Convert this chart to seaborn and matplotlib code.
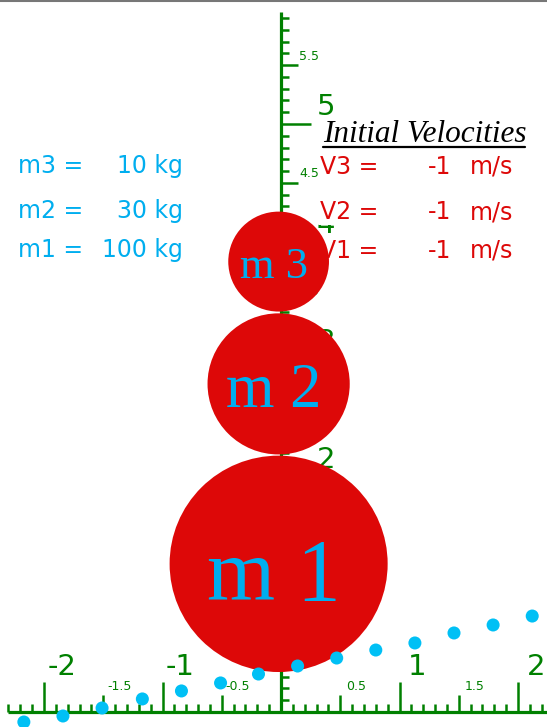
import matplotlib
matplotlib.use('Agg')
import matplotlib.pyplot as plt
from matplotlib.patches import Circle
from matplotlib.lines import Line2D
import numpy as np
import seaborn as sns

# stacked bodies, bottom to top
ball_names = ['m 1', 'm 2', 'm 3']
ball_x = [-0.02, -0.02, -0.02]
ball_y = [1.26, 2.79, 3.83]
ball_r = [0.92, 0.60, 0.425]
masses = [100, 30, 10]
velocities = [-1, -1, -1]

# cyan trail of points along the bottom
trail_x = [-2.17, -1.84, -1.51, -1.17, -0.84, -0.51, -0.19,
           0.14, 0.47, 0.80, 1.13, 1.46, 1.79, 2.12]
trail_y = [-0.085, -0.034, 0.034, 0.111, 0.179, 0.247, 0.323,
           0.391, 0.459, 0.527, 0.587, 0.672, 0.740, 0.816]

x_labels = [-2, -1, 1, 2]
y_labels = [1, 2, 3, 4, 5]
x_half = [-1.5, -0.5, 0.5, 1.5]
y_half = [0.5, 1.5, 2.5, 3.5, 4.5, 5.5]

W, H = 547, 727
GREEN = '#008000'
RED = '#DD0808'
CYAN = '#00AEEF'
DOT = '#00C0F5'
label_sizes = [63, 45, 32]


def fx(px):
    return px / W


def fy(py):
    return 1 - py / H


sns.set_style('white')
fig = plt.figure(figsize=(W / 100, H / 100), dpi=100)
ax = fig.add_axes([0, 0, 1, 1])
ax.set_xlim((0 - 281) / 118.5, (W - 281) / 118.5)
ax.set_ylim((712 - H) / 117.6, 712 / 117.6)
ax.axis('off')

# axes lines
ax.plot([-2.30, 2.30], [0, 0], color=GREEN, lw=2.3, solid_capstyle='butt', zorder=1)
ax.plot([0, 0], [0, 5.95], color=GREEN, lw=2.3, solid_capstyle='butt', zorder=1)

# x ticks every 0.1
for k in range(-23, 23):
    if k == 0:
        continue
    h = 0.255 if k % 10 == 0 else (0.145 if k % 5 == 0 else 0.068)
    ax.plot([k / 10, k / 10], [0, h], color=GREEN, lw=1.8, solid_capstyle='butt', zorder=1)

# y ticks every 0.1
for k in range(1, 60):
    w = 0.253 if k % 10 == 0 else (0.143 if k % 5 == 0 else 0.0675)
    ax.plot([0, w], [k / 10, k / 10], color=GREEN, lw=1.8, solid_capstyle='butt', zorder=1)

for v in x_labels:
    ax.text(v + 0.15, 0.383, str(v), color=GREEN, fontsize=21, ha='center', va='center', zorder=1)
for v in y_labels:
    ax.text(0.38, v + 0.145, str(v), color=GREEN, fontsize=21, ha='center', va='center', zorder=1)
for v in x_half:
    ax.text(v + 0.135, 0.22, str(v), color=GREEN, fontsize=9, ha='center', va='center', zorder=1)
for v in y_half:
    ax.text(0.24, v + 0.077, str(v), color=GREEN, fontsize=9, ha='center', va='center', zorder=1)

# info texts
rows_py = [173, 218, 257]
for i, py in enumerate(rows_py):
    j = 2 - i
    n = j + 1
    fig.text(fx(18), fy(py), f'm{n} =', color=CYAN, fontsize=17, ha='left', va='baseline')
    fig.text(fx(183), fy(py), f'{masses[j]} kg', color=CYAN, fontsize=17, ha='right', va='baseline')
    box = dict(facecolor='white', edgecolor='none', pad=1)
    t = ax.text(0, 0, f'V{n} =', color=RED, fontsize=17, ha='left', va='baseline',
                transform=fig.transFigure, zorder=2, bbox=box)
    t.set_position((fx(320), fy(py + 1)))
    ax.text(fx(451), fy(py + 1), f'{velocities[j]}', color=RED, fontsize=17, ha='right',
            va='baseline', transform=fig.transFigure, zorder=2)
    ax.text(fx(470), fy(py + 1), 'm/s', color=RED, fontsize=17, ha='left',
            va='baseline', transform=fig.transFigure, zorder=2)

fig.text(fx(323), fy(142), 'Initial Velocities', family='Liberation Serif', style='italic',
         fontsize=22.5, color='black', ha='left', va='baseline')
fig.add_artist(Line2D([fx(323), fx(525)], [fy(147), fy(147)], color='black', lw=1.6,
                      transform=fig.transFigure))

# balls
for name, x, y, r, fs in zip(ball_names, ball_x, ball_y, ball_r, label_sizes):
    ax.add_patch(Circle((x, y), r, color=RED, lw=0, zorder=3))
    ax.text(x - 0.04, y - 0.33 * r, name, family='Liberation Serif', fontsize=fs,
            color=CYAN, ha='center', va='baseline', zorder=4)

sns.scatterplot(x=trail_x, y=trail_y, s=88, color=DOT, edgecolor='none', ax=ax, zorder=6,
                legend=False)

fig.add_artist(Line2D([0, 1], [fy(1), fy(1)], color='#777777', lw=1.5, transform=fig.transFigure))

fig.savefig('out.png', dpi=100)
